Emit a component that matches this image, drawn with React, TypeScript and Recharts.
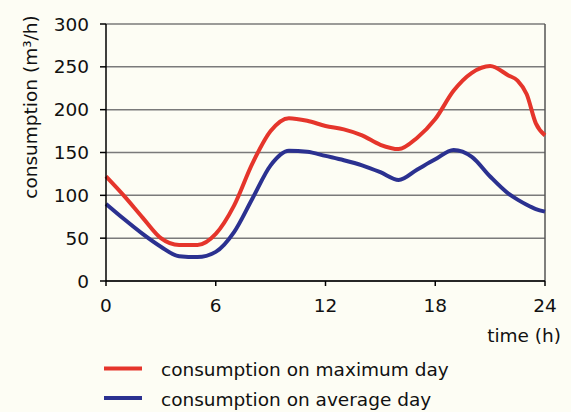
import React from "react";
import { LineChart, Line, XAxis, YAxis, CartesianGrid, ReferenceLine } from "recharts";

const hours = [0, 1, 2, 3, 4, 5, 6, 7, 8, 9, 10, 11, 12, 13, 14, 15, 16, 17, 18, 19, 20, 21, 22, 22.5, 23, 23.5, 24];
const maxDay = [122, 99, 74, 50, 42, 42, 55, 88, 137, 175, 190, 187, 181, 177, 170, 159, 154, 167, 189, 222, 243, 251, 240, 234, 218, 184, 170];
const avgDay = [90, 72, 55, 40, 29, 28, 34, 57, 96, 135, 152, 151, 146, 141, 135, 127, 118, 130, 142, 153, 145, 122, 102, 95, 89, 84, 81];
const xTicks = [0, 6, 12, 18, 24];
const yTicks = [0, 50, 100, 150, 200, 250, 300];

const data = hours.map((h, i) => ({ h, max: maxDay[i], avg: avgDay[i] }));

const RED = "#e5352b";
const BLUE = "#2b3190";
const BG = "#fdfdf4";
const FONT = "'DejaVu Sans', Verdana, sans-serif";

export default function App() {
  return (
    <div style={{ position: "absolute", left: 0, top: 0, width: 571, height: 412, background: BG, fontFamily: FONT }}>
      <LineChart width={571} height={412} data={data} margin={{ top: 24, right: 26, left: 0, bottom: 0 }}>
        <CartesianGrid vertical={false} stroke="#7a7a7a" strokeWidth={1.5} />
        <XAxis
          dataKey="h"
          type="number"
          domain={[0, 24]}
          ticks={xTicks}
          height={131}
          stroke="#000"
          strokeWidth={1.5}
          tickSize={5}
          tickMargin={13}
          tick={{ fill: "#111", fontSize: 18.5, fontFamily: FONT }}
          label={{
            content: () => (
              <text x={561} y={342} textAnchor="end" fill="#111" fontSize={18.5} fontFamily={FONT}>
                time (h)
              </text>
            ),
          }}
        />
        <YAxis
          domain={[0, 300]}
          ticks={yTicks}
          width={106}
          stroke="#000"
          strokeWidth={1.5}
          tickSize={6}
          tickMargin={11}
          tick={{ fill: "#111", fontSize: 18.5, fontFamily: FONT }}
          label={{
            content: () => (
              <text
                x={37}
                y={107}
                transform="rotate(-90 37 107)"
                textAnchor="middle"
                fill="#111"
                fontSize={18.5}
                fontFamily={FONT}
              >
                consumption (m³/h)
              </text>
            ),
          }}
        />
        <ReferenceLine x={24} stroke="#555" strokeWidth={1.5} />
        <Line type="monotone" dataKey="max" stroke={RED} strokeWidth={4} dot={false} isAnimationActive={false} />
        <Line type="monotone" dataKey="avg" stroke={BLUE} strokeWidth={4} dot={false} isAnimationActive={false} />
      </LineChart>
      <svg width={571} height={412} style={{ position: "absolute", left: 0, top: 0, pointerEvents: "none" }}>
        <line x1={104} x2={142} y1={368.5} y2={368.5} stroke={RED} strokeWidth={4} />
        <text x={161} y={376} fill="#111" fontSize={18.5} fontFamily={FONT}>
          consumption on maximum day
        </text>
        <line x1={104} x2={142} y1={398} y2={398} stroke={BLUE} strokeWidth={4} />
        <text x={161} y={405.5} fill="#111" fontSize={18.5} fontFamily={FONT}>
          consumption on average day
        </text>
      </svg>
    </div>
  );
}
